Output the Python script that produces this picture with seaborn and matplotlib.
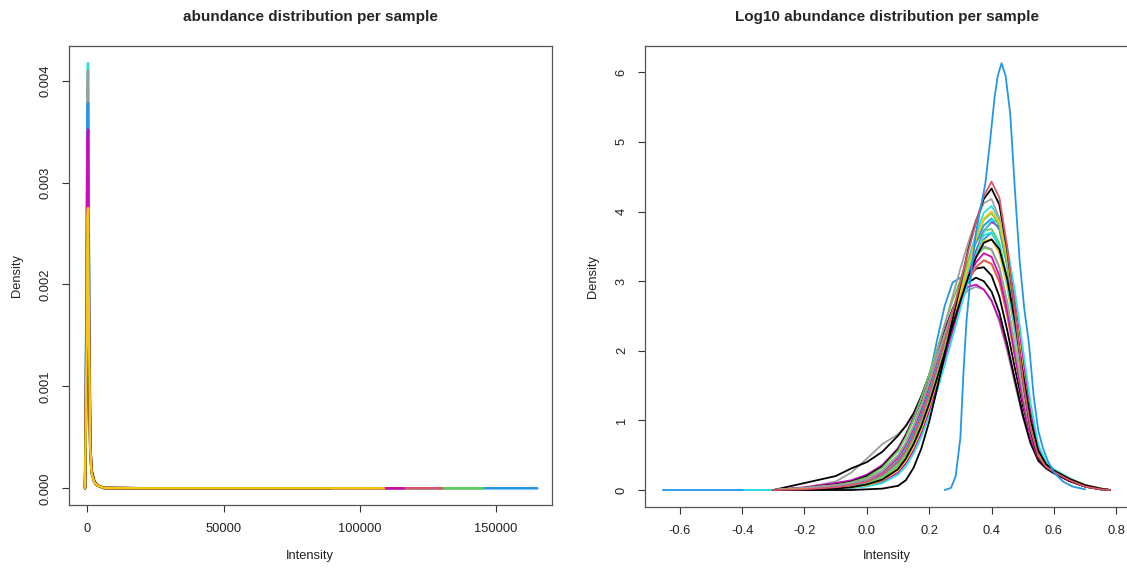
import matplotlib
matplotlib.use("Agg")
import matplotlib.pyplot as plt
import seaborn as sns

# ---------------- left panel: raw intensity densities ----------------
raw_x = [-900, -300, 0, 200, 500, 1000, 1500, 2500, 3500, 6000, 20000]
raw_cyan = [0, 0.00220, 0.00400, 0.00417, 0.00240, 0.00042, 0.00016, 0.00006, 0.00003, 0.000003, 0]
raw_gray = [0, 0.00215, 0.00395, 0.00410, 0.00236, 0.00041, 0.00016, 0.00006, 0.00003, 0.000003, 0]
raw_blue = [0, 0.00200, 0.00365, 0.00378, 0.00220, 0.00040, 0.00015, 0.00006, 0.00003, 0.000003, 0]
raw_green = [0, 0.00175, 0.00318, 0.00330, 0.00195, 0.00038, 0.00015, 0.00006, 0.00003, 0.000003, 0]
raw_red = [0, 0.00110, 0.00202, 0.00210, 0.00140, 0.00045, 0.00018, 0.00007, 0.00003, 0.000003, 0]
raw_magenta = [0, 0.00185, 0.00340, 0.00352, 0.00205, 0.00039, 0.00015, 0.00006, 0.00003, 0.000003, 0]
raw_black = [0, 0.00130, 0.00240, 0.00250, 0.00160, 0.00044, 0.00017, 0.00007, 0.00003, 0.000003, 0]
raw_yellow = [0, 0.00145, 0.00265, 0.00275, 0.00170, 0.00040, 0.00015, 0.00006, 0.00003, 0.000003, 0]
# where each sample's density support ends (density is 0 there)
raw_ends = [60000, 75000, 165400, 145300, 130400, 116300, 90000, 109000]

# ---------------- right panel: log10 intensity densities ----------------
log_x = [-0.30, -0.20, -0.10, -0.05, 0.00, 0.05, 0.10, 0.125, 0.15, 0.175, 0.20, 0.225,
         0.25, 0.275, 0.30, 0.325, 0.35, 0.375, 0.40, 0.425, 0.45, 0.475, 0.50, 0.525,
         0.55, 0.575, 0.60, 0.65, 0.70, 0.75, 0.78]
log_blue_a = [0, 0.02, 0.05, 0.08, 0.13, 0.22, 0.40, 0.58, 0.82, 1.15, 1.60, 2.15, 2.65, 2.98, 3.05, 3.12,
              3.35, 3.60, 3.70, 3.50, 3.00, 2.30, 1.55, 0.90, 0.50, 0.34, 0.26, 0.14, 0.05, 0.01, 0]
log_cyan_a = [0, 0.01, 0.03, 0.06, 0.11, 0.20, 0.38, 0.54, 0.76, 1.03, 1.36, 1.72, 2.10, 2.50, 2.90, 3.30,
              3.68, 3.98, 4.08, 3.88, 3.30, 2.50, 1.62, 0.90, 0.49, 0.34, 0.27, 0.15, 0.06, 0.01, 0]
log_gray_bump = [0, 0.03, 0.12, 0.25, 0.45, 0.66, 0.80, 0.92, 1.10, 1.35, 1.65, 1.98, 2.28, 2.55, 2.75, 2.87,
                 2.92, 2.88, 2.72, 2.42, 2.00, 1.52, 1.05, 0.66, 0.42, 0.31, 0.24, 0.13, 0.05, 0.01, 0]
log_black_bump = [0, 0.10, 0.20, 0.31, 0.40, 0.55, 0.78, 0.92, 1.10, 1.35, 1.65, 1.98, 2.30, 2.60, 2.85, 3.05,
                  3.18, 3.20, 3.08, 2.78, 2.30, 1.75, 1.22, 0.78, 0.48, 0.34, 0.26, 0.14, 0.05, 0.01, 0]
log_magenta_low = [0, 0.04, 0.10, 0.14, 0.22, 0.36, 0.60, 0.80, 1.05, 1.33, 1.65, 1.98, 2.30, 2.58, 2.78, 2.92,
                   2.95, 2.88, 2.72, 2.45, 2.05, 1.58, 1.10, 0.70, 0.44, 0.32, 0.25, 0.13, 0.05, 0.01, 0]
log_black_low = [0, 0.03, 0.08, 0.12, 0.20, 0.34, 0.58, 0.78, 1.02, 1.30, 1.62, 1.95, 2.28, 2.58, 2.82, 2.98,
                 3.05, 3.00, 2.85, 2.55, 2.10, 1.58, 1.08, 0.68, 0.42, 0.31, 0.24, 0.13, 0.05, 0.01, 0]
log_green_a = [0, 0.02, 0.06, 0.09, 0.15, 0.27, 0.48, 0.66, 0.90, 1.18, 1.52, 1.88, 2.22, 2.55, 2.85, 3.12,
               3.35, 3.48, 3.45, 3.20, 2.70, 2.05, 1.38, 0.80, 0.46, 0.33, 0.26, 0.14, 0.06, 0.01, 0]
log_yellow_c = [0, 0.02, 0.05, 0.08, 0.14, 0.26, 0.48, 0.67, 0.92, 1.20, 1.52, 1.86, 2.19, 2.50, 2.78, 3.02,
                3.20, 3.30, 3.24, 2.98, 2.50, 1.90, 1.30, 0.78, 0.46, 0.33, 0.26, 0.14, 0.05, 0.01, 0]
log_red_b = [0, 0.02, 0.05, 0.08, 0.14, 0.25, 0.45, 0.63, 0.86, 1.13, 1.45, 1.80, 2.14, 2.46, 2.75, 3.00,
             3.20, 3.30, 3.25, 3.00, 2.52, 1.92, 1.30, 0.78, 0.46, 0.33, 0.26, 0.14, 0.05, 0.01, 0]
log_magenta_b = [0, 0.03, 0.06, 0.09, 0.15, 0.26, 0.47, 0.65, 0.88, 1.16, 1.48, 1.82, 2.15, 2.48, 2.78, 3.05,
                 3.27, 3.40, 3.35, 3.08, 2.58, 1.95, 1.30, 0.76, 0.44, 0.32, 0.25, 0.13, 0.05, 0.01, 0]
log_gray_c = [0, 0.02, 0.05, 0.09, 0.15, 0.27, 0.49, 0.68, 0.92, 1.21, 1.54, 1.90, 2.25, 2.58, 2.88, 3.15,
              3.38, 3.50, 3.46, 3.20, 2.70, 2.06, 1.40, 0.82, 0.47, 0.33, 0.26, 0.14, 0.06, 0.01, 0]
log_yellow_b = [0, 0.01, 0.03, 0.05, 0.09, 0.17, 0.33, 0.48, 0.68, 0.94, 1.26, 1.62, 2.00, 2.38, 2.75, 3.08,
                3.38, 3.58, 3.60, 3.40, 2.92, 2.25, 1.50, 0.86, 0.48, 0.34, 0.27, 0.15, 0.06, 0.01, 0]
log_green_c = [0, 0.03, 0.07, 0.11, 0.18, 0.32, 0.56, 0.76, 1.02, 1.32, 1.66, 2.02, 2.38, 2.72, 3.02, 3.30,
               3.55, 3.72, 3.75, 3.55, 3.05, 2.38, 1.62, 0.94, 0.51, 0.35, 0.27, 0.15, 0.06, 0.01, 0]
log_cyan_b = [0, 0.02, 0.04, 0.07, 0.12, 0.22, 0.42, 0.59, 0.82, 1.09, 1.42, 1.78, 2.14, 2.50, 2.84, 3.16,
              3.45, 3.66, 3.70, 3.50, 2.98, 2.28, 1.52, 0.88, 0.49, 0.34, 0.27, 0.15, 0.06, 0.01, 0]
log_magenta_c = [0, 0.01, 0.02, 0.03, 0.06, 0.12, 0.25, 0.38, 0.57, 0.82, 1.13, 1.49, 1.88, 2.28, 2.68, 3.06,
                 3.42, 3.72, 3.85, 3.78, 3.38, 2.70, 1.90, 1.14, 0.60, 0.38, 0.29, 0.16, 0.07, 0.02, 0]
log_blue_b = [0, 0.01, 0.04, 0.07, 0.12, 0.22, 0.41, 0.58, 0.81, 1.08, 1.41, 1.77, 2.14, 2.52, 2.90, 3.24,
              3.56, 3.80, 3.90, 3.74, 3.22, 2.48, 1.66, 0.95, 0.52, 0.35, 0.27, 0.15, 0.06, 0.01, 0]
log_cyan_c = [0, 0, 0.01, 0.03, 0.05, 0.10, 0.22, 0.34, 0.52, 0.76, 1.06, 1.42, 1.80, 2.20, 2.60, 3.00,
              3.38, 3.70, 3.88, 3.85, 3.50, 2.85, 2.05, 1.25, 0.65, 0.40, 0.30, 0.17, 0.07, 0.02, 0]
log_gray_b = [0, 0.03, 0.07, 0.10, 0.16, 0.28, 0.50, 0.68, 0.92, 1.22, 1.58, 1.98, 2.38, 2.78, 3.18, 3.55,
              3.88, 4.12, 4.18, 3.90, 3.25, 2.40, 1.52, 0.85, 0.47, 0.33, 0.26, 0.14, 0.05, 0.01, 0]
log_green_b = [0, 0.01, 0.03, 0.05, 0.09, 0.18, 0.35, 0.51, 0.73, 1.00, 1.33, 1.70, 2.09, 2.49, 2.89, 3.27,
               3.62, 3.88, 3.98, 3.80, 3.28, 2.52, 1.68, 0.96, 0.52, 0.35, 0.28, 0.16, 0.07, 0.02, 0]
log_yellow_a = [0, 0.01, 0.02, 0.04, 0.07, 0.14, 0.28, 0.42, 0.62, 0.88, 1.20, 1.58, 1.98, 2.40, 2.82, 3.22,
                3.60, 3.90, 4.00, 3.85, 3.35, 2.60, 1.75, 1.00, 0.53, 0.36, 0.28, 0.16, 0.07, 0.02, 0]
log_black_mid = [0, 0.0, 0.02, 0.04, 0.08, 0.15, 0.30, 0.45, 0.66, 0.92, 1.24, 1.60, 1.98, 2.36, 2.72, 3.05,
                 3.34, 3.55, 3.60, 3.46, 3.04, 2.42, 1.70, 1.02, 0.56, 0.37, 0.28, 0.16, 0.07, 0.02, 0]
log_black_tall = [0, 0, 0, 0, 0.01, 0.02, 0.06, 0.14, 0.32, 0.60, 0.98, 1.45, 1.95, 2.45, 2.95, 3.45,
                  3.85, 4.18, 4.33, 4.10, 3.45, 2.55, 1.60, 0.85, 0.45, 0.32, 0.25, 0.13, 0.05, 0.01, 0]
log_red_tall = [0, 0.01, 0.04, 0.07, 0.12, 0.22, 0.40, 0.56, 0.78, 1.05, 1.38, 1.75, 2.15, 2.55, 2.98, 3.42,
                3.85, 4.22, 4.43, 4.20, 3.50, 2.55, 1.60, 0.88, 0.48, 0.33, 0.26, 0.14, 0.05, 0.01, 0]
# the one narrow outlier sample
spike_x = [0.25, 0.27, 0.285, 0.30, 0.31, 0.32, 0.335, 0.35, 0.365, 0.38, 0.395, 0.41, 0.42, 0.432,
           0.445, 0.46, 0.475, 0.49, 0.505, 0.52, 0.535, 0.55, 0.565, 0.58, 0.60, 0.63, 0.66, 0.70]
spike_y = [0, 0.03, 0.20, 0.75, 1.70, 2.45, 3.15, 3.70, 4.05, 4.40, 5.00, 5.65, 5.95, 6.13,
           5.95, 5.40, 4.30, 3.30, 2.60, 2.10, 1.35, 0.85, 0.60, 0.42, 0.25, 0.12, 0.05, 0.01]

BLACK, RED, GREEN, BLUE = "#000000", "#DF536B", "#61D04F", "#2297E6"
CYAN, MAGENTA, YELLOW, GRAY = "#28E2E5", "#CD0BBC", "#F5C710", "#9E9E9E"

raw_curves = [(raw_cyan, CYAN), (raw_gray, GRAY), (raw_blue, BLUE), (raw_green, GREEN),
              (raw_red, RED), (raw_magenta, MAGENTA), (raw_black, BLACK), (raw_yellow, YELLOW)]
# (values, colour, start of support if left of the grid)
log_curves = [(log_blue_a, BLUE, -0.654), (log_cyan_a, CYAN, -0.394), (log_gray_bump, GRAY, None),
              (log_black_bump, BLACK, None), (log_magenta_low, MAGENTA, None), (log_black_low, BLACK, None),
              (log_green_a, GREEN, None), (log_yellow_c, YELLOW, None), (log_red_b, RED, None),
              (log_magenta_b, MAGENTA, None), (log_gray_c, GRAY, None), (log_yellow_b, YELLOW, None),
              (log_green_c, GREEN, None), (log_cyan_b, CYAN, None), (log_magenta_c, MAGENTA, None),
              (log_blue_b, BLUE, None), (log_cyan_c, CYAN, None), (log_gray_b, GRAY, None),
              (log_green_b, GREEN, None), (log_yellow_a, YELLOW, None), (log_black_mid, BLACK, None),
              (log_black_tall, BLACK, None), (log_red_tall, RED, None)]

sns.set_style("white")
plt.rcParams['font.family'] = ['Liberation Sans', 'DejaVu Sans']

W, H = 1127, 572
fig = plt.figure(figsize=(W / 100, H / 100), dpi=100)


def px_box(l, t, r, b):
    return [l / W, 1 - b / H, (r - l) / W, (b - t) / H]


ax1 = fig.add_axes(px_box(68.5, 45.7, 551.7, 505))
ax2 = fig.add_axes(px_box(644.5, 45.7, 1130, 507))

for i, (vals, col) in enumerate(raw_curves):
    sns.lineplot(x=raw_x + [raw_ends[i]], y=vals + [0], color=col, lw=1.8, ax=ax1,
                 sort=False, estimator=None, zorder=2 + i * 0.1)

for j, (vals, col, start) in enumerate(log_curves):
    xs = list(log_x)
    ys = list(vals)
    if start is not None:
        xs = [start] + xs
        ys = [0] + ys
    sns.lineplot(x=xs, y=ys, color=col, lw=1.3, ax=ax2, sort=False, estimator=None,
                 zorder=2 + j * 0.01)
sns.lineplot(x=spike_x, y=spike_y, color=BLUE, lw=1.3, ax=ax2, sort=False, estimator=None, zorder=3)

ax1.set_xlim(-6985, 170660)
ax1.set_ylim(-0.000164, 0.004343)
ax1.set_xticks([0, 50000, 100000, 150000])
ax1.set_xticklabels(["0", "50000", "100000", "150000"])
ax1.set_yticks([0, 0.001, 0.002, 0.003, 0.004])
ax1.set_yticklabels(["0.000", "0.001", "0.002", "0.003", "0.004"])

ax2.set_xlim(-0.713, 0.844)
ax2.set_ylim(-0.244, 6.382)
ax2.set_xticks([-0.6, -0.4, -0.2, 0.0, 0.2, 0.4, 0.6, 0.8])
ax2.set_xticklabels(["-0.6", "-0.4", "-0.2", "0.0", "0.2", "0.4", "0.6", "0.8"])
ax2.set_yticks([0, 1, 2, 3, 4, 5, 6])
ax2.set_yticklabels(["0", "1", "2", "3", "4", "5", "6"])

for ax in (ax1, ax2):
    for sp in ax.spines.values():
        sp.set_color("#555555")
        sp.set_linewidth(0.9)
    ax.tick_params(axis="both", direction="out", length=5, width=0.8, color="#333333",
                   labelsize=9.3, labelcolor="#222222", bottom=True, left=True)
    ax.tick_params(axis="x", pad=8)
    ax.tick_params(axis="y", pad=7, labelrotation=90)
    for lbl in ax.get_yticklabels():
        lbl.set_va("center")

ax1.set_xlabel("Intensity", fontsize=9.3, color="#222222")
ax1.set_ylabel("Density", fontsize=9.3, color="#222222")
ax2.set_xlabel("Intensity", fontsize=9.3, color="#222222")
ax2.set_ylabel("Density", fontsize=9.3, color="#222222")
ax1.xaxis.set_label_coords(310 / W, 1 - 556 / H, transform=fig.transFigure)
ax2.xaxis.set_label_coords(887 / W, 1 - 556 / H, transform=fig.transFigure)
ax1.yaxis.set_label_coords(17.5 / W, 1 - 275 / H, transform=fig.transFigure)
ax2.yaxis.set_label_coords(593 / W, 1 - 276 / H, transform=fig.transFigure)
for ax in (ax1, ax2):
    ax.xaxis.label.set_va("center")
    ax.yaxis.label.set_va("center")

fig.text(310 / W, 1 - 17 / H, "abundance distribution per sample", ha="center", va="center",
         fontsize=11, fontweight="bold")
fig.text(887 / W, 1 - 17 / H, "Log10 abundance distribution per sample", ha="center", va="center",
         fontsize=11, fontweight="bold")

fig.savefig("out.png", dpi=100)
